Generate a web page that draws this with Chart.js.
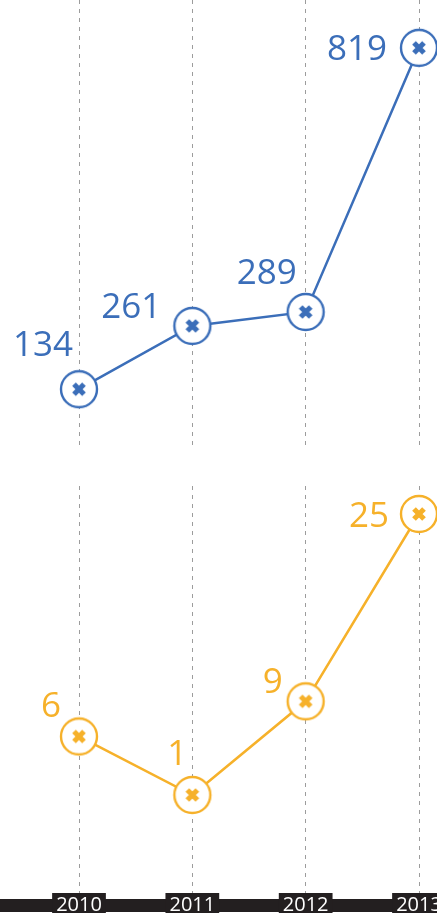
<!DOCTYPE html>
<html>
<head>
<meta charset="utf-8">
<script src="https://cdn.jsdelivr.net/npm/chart.js@4"></script>
<style>
  body { margin: 0; background: #fff; overflow: hidden; }
  #wrap { position: relative; width: 437px; height: 913px; }
  canvas { position: absolute; left: 0; }
</style>
</head>
<body>
<div id="wrap">
  <canvas id="topChart" width="437" height="450" style="top:0"></canvas>
  <canvas id="bottomChart" width="437" height="463" style="top:450px"></canvas>
</div>
<script>
const years = ["2010", "2011", "2012", "2013"];
const blueValues = [134, 261, 289, 819];
const orangeValues = [6, 1, 9, 25];

const BLUE = "#3b6eb9";
const ORANGE = "#f6b12a";
const BAR = "#231f20";

// circle with an x in it, used as point style
function makeMarker(color) {
  const c = document.createElement("canvas");
  c.width = 42; c.height = 42;
  const g = c.getContext("2d");
  g.beginPath();
  g.arc(21, 21, 18, 0, Math.PI * 2);
  g.fillStyle = "#fff";
  g.fill();
  g.lineWidth = 2.4;
  g.strokeStyle = color;
  g.stroke();
  g.beginPath();
  g.moveTo(16, 16); g.lineTo(26, 26);
  g.moveTo(26, 16); g.lineTo(16, 26);
  g.lineWidth = 5.2;
  g.stroke();
  return c;
}

const valueLabels = {
  id: "valueLabels",
  afterDatasetsDraw(chart, args, opts) {
    const ctx = chart.ctx;
    const ds = chart.data.datasets[0];
    const meta = chart.getDatasetMeta(0);
    ctx.save();
    ctx.font = "35px 'Open Sans'";
    ctx.fillStyle = ds.borderColor;
    ctx.textAlign = "right";
    ctx.textBaseline = "alphabetic";
    meta.data.forEach((pt, i) => {
      const off = opts.offsets[i];
      ctx.fillText(ds.data[i], pt.x + off[0], pt.y + off[1]);
    });
    ctx.restore();
  }
};

// black axis band, a bit below the top of the x scale
const axisBar = {
  id: "axisBar",
  beforeDraw(chart, args, opts) {
    if (!opts.show) return;
    const ctx = chart.ctx;
    ctx.save();
    ctx.fillStyle = BAR;
    ctx.fillRect(0, chart.chartArea.bottom + 6, chart.width, 13);
    ctx.restore();
  }
};

function buildChart(id, values, color, yMin, yMax, padTop, showAxis, offsets) {
  return new Chart(document.getElementById(id), {
    type: "line",
    data: {
      labels: years,
      datasets: [{
        data: values,
        borderColor: color,
        borderWidth: 2.5,
        pointStyle: makeMarker(color),
        pointRadius: 18,
        tension: 0,
        fill: false,
        clip: false
      }]
    },
    options: {
      responsive: false,
      animation: false,
      events: [],
      layout: { autoPadding: false, padding: { left: 79, right: 18, top: padTop, bottom: 0 } },
      plugins: {
        legend: { display: false },
        tooltip: { enabled: false },
        valueLabels: { offsets: offsets },
        axisBar: { show: showAxis }
      },
      scales: {
        x: {
          type: "category",
          offset: false,
          grid: { color: "#9c9c9c", lineWidth: 1, drawTicks: false },
          border: { display: false, dash: [4, 5] },
          ticks: {
            display: showAxis,
            color: "#fff",
            font: { family: "'Open Sans'", size: 20, weight: "500" },
            padding: 0,
            autoSkip: false,
            maxRotation: 0,
            showLabelBackdrop: true,
            backdropColor: BAR,
            backdropPadding: { left: 4, right: 4, top: 0, bottom: 0 }
          },
          afterFit(scale) {
            scale.height = showAxis ? 20 : 0;
            scale.paddingLeft = 0;
            scale.paddingRight = 0;
          }
        },
        y: { display: false, min: yMin, max: yMax }
      }
    },
    plugins: [valueLabels, axisBar]
  });
}

buildChart("topChart", blueValues, BLUE, 12, 915, 0, false,
  [[-6, -33], [-31, -8], [-9, -28], [-32, 12]]);
buildChart("bottomChart", orangeValues, ORANGE, -7.37, 27.39, 36, true,
  [[-18, -19], [-5, -30], [-23, -8], [-30, 13]]);
</script>
</body>
</html>
